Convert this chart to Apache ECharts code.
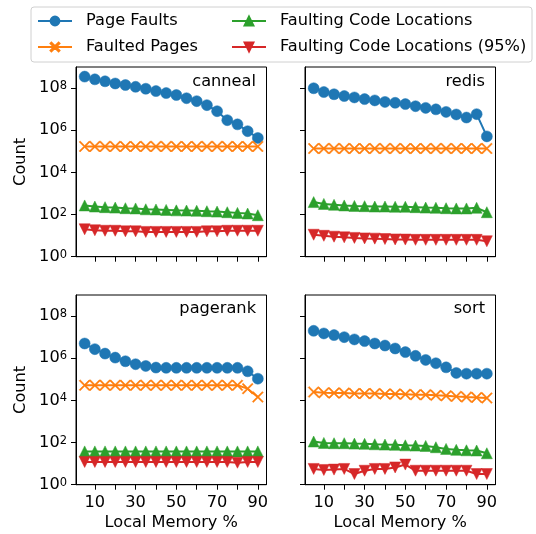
<!DOCTYPE html>
<html><head><meta charset="utf-8">
<script src="https://cdn.jsdelivr.net/npm/echarts@6/dist/echarts.min.js"></script>
<style>html,body{margin:0;padding:0;background:#fff}#c{width:536px;height:534px}</style>
</head><body><div id="c"></div>
<script>
const memory = [5,10,15,20,25,30,35,40,45,50,55,60,65,70,75,80,85,90];
const seriesNames = ['Page Faults','Faulted Pages','Faulting Code Locations','Faulting Code Locations (95%)'];
const panelNames = ['canneal','redis','pagerank','sort'];
const xTicks = [10,20,30,40,50,60,70,80,90];
const xTickLabels = [10,30,50,70,90];
const yTicks = [1,1e2,1e4,1e6,1e8];

const cannealPageFaults = [3.5e8,2.6e8,2.1e8,1.65e8,1.4e8,1.15e8,9.3e7,7.2e7,5.8e7,4.7e7,3.3e7,2.4e7,1.55e7,8e6,3e6,1.9e6,9e5,4.3e5];
const cannealFaultedPages = [1.7e5,1.7e5,1.7e5,1.7e5,1.7e5,1.7e5,1.7e5,1.7e5,1.7e5,1.7e5,1.7e5,1.7e5,1.7e5,1.7e5,1.7e5,1.7e5,1.7e5,1.7e5];
const cannealCodeLocs = [270,240,224,214,200,195,178,174,166,158,155,151,144,138,129,120,112,93];
const cannealCodeLocs95 = [20,18,17,17,16,16,15,15,15,15,15,15,16,16,17,17,17,17];

const redisPageFaults = [9.8e7,6.5e7,5.1e7,4.2e7,3.6e7,3.0e7,2.6e7,2.2e7,2.0e7,1.74e7,1.38e7,1.15e7,9.8e6,7.4e6,5.6e6,4.0e6,5.8e6,5.1e5];
const redisFaultedPages = [1.35e5,1.35e5,1.35e5,1.35e5,1.35e5,1.35e5,1.35e5,1.35e5,1.35e5,1.35e5,1.35e5,1.35e5,1.35e5,1.35e5,1.35e5,1.35e5,1.35e5,1.35e5];
const redisCodeLocs = [390,320,290,270,257,250,240,240,234,234,224,214,209,200,195,195,209,129];
const redisCodeLocs95 = [11,9.8,8.9,8.3,7.8,7.4,7.2,6.9,6.6,6.5,6.3,6.3,6.3,6.3,6.3,6.3,6.3,5.4];

const pagerankPageFaults = [5.0e6,2.7e6,1.66e6,1.07e6,7.2e5,5.2e5,4.3e5,3.6e5,3.5e5,3.5e5,3.5e5,3.5e5,3.5e5,3.5e5,3.5e5,3.5e5,2.4e5,1.07e5];
const pagerankFaultedPages = [5.2e4,5.2e4,5.2e4,5.2e4,5.2e4,5.2e4,5.2e4,5.2e4,5.2e4,5.2e4,5.2e4,5.2e4,5.2e4,5.2e4,5.2e4,5.2e4,3.6e4,1.44e4];
const pagerankCodeLocs = [38,38,38,38,38,38,38,38,38,38,38,38,38,38,38,38,38,38];
const pagerankCodeLocs95 = [12,12,12,12,12,12,12,12,12,12,12,12,12,12,12,11,12,12];

const sortPageFaults = [2.0e7,1.5e7,1.25e7,1.0e7,7.8e6,6.5e6,5.0e6,4.0e6,2.9e6,1.95e6,1.3e6,8.3e5,5.8e5,3.7e5,2.0e5,1.85e5,1.85e5,1.85e5];
const sortFaultedPages = [2.5e4,2.3e4,2.24e4,2.24e4,2.14e4,2.1e4,2.1e4,2.0e4,2.0e4,1.95e4,1.86e4,1.86e4,1.74e4,1.66e4,1.55e4,1.45e4,1.38e4,1.29e4];
const sortCodeLocs = [112,96,93,93,89,87,83,80,78,74,72,69,60,50,45,43,42,31];
const sortCodeLocs95 = [5.6,5.0,5.2,5.6,3.2,4.6,5.6,5.6,6.6,9,4.6,4.6,4.6,4.6,4.6,4.6,3.2,3.2];

const panelData = [
  [cannealPageFaults,cannealFaultedPages,cannealCodeLocs,cannealCodeLocs95],
  [redisPageFaults,redisFaultedPages,redisCodeLocs,redisCodeLocs95],
  [pagerankPageFaults,pagerankFaultedPages,pagerankCodeLocs,pagerankCodeLocs95],
  [sortPageFaults,sortFaultedPages,sortCodeLocs,sortCodeLocs95]
];

const FONT = 'DejaVu Sans';
const FS = 16.2;
const colors = ['#1f77b4','#ff7f0e','#2ca02c','#d62728'];
const xSym = 'path://M0,0.9L0.9,0L5,4.1L9.1,0L10,0.9L5.9,5L10,9.1L9.1,10L5,5.9L0.9,10L0,9.1L4.1,5Z';
const symbols = ['circle', xSym, 'triangle', 'triangle'];
const symSizes = [11, 11, 11, 11];
const symRot = [0, 0, 0, 180];

const gridPos = [
  {left:76, top:67}, {left:305, top:67},
  {left:76, top:295}, {left:305, top:295}
];
const grids = gridPos.map(p => ({left:p.left, top:p.top, width:190.5, height:189.7,
  show:true, borderColor:'#000', borderWidth:1, backgroundColor:'transparent'}));

const xAxes = gridPos.map((p,i) => ({
  type:'value', gridIndex:i, min:0.75, max:94.25,
  axisLine:{show:true, lineStyle:{color:'#000', width:1}},
  axisTick:{show:true, length:5, lineStyle:{color:'#000', width:1}, customValues:xTicks},
  axisLabel:{show:i>=2, customValues:xTickLabels, color:'#000', fontFamily:FONT, fontSize:FS, margin:10},
  splitLine:{show:false},
  name: i>=2 ? 'Local Memory %' : '', nameLocation:'middle', nameGap:30,
  nameTextStyle:{color:'#000', fontFamily:FONT, fontSize:FS}
}));

const yAxes = gridPos.map((p,i) => ({
  type:'log', logBase:10, gridIndex:i, min:1, max:1e9,
  axisLine:{show:true, lineStyle:{color:'#000', width:1}},
  axisTick:{show:true, length:5, lineStyle:{color:'#000', width:1}, customValues:yTicks},
  axisLabel:{show:(i%2===0), customValues:yTicks, margin:9,
    formatter: v => '{b|10}{s|' + Math.round(Math.log10(v)) + '}',
    rich:{
      b:{fontFamily:FONT, fontSize:FS, color:'#000', lineHeight:16, verticalAlign:'bottom'},
      s:{fontFamily:FONT, fontSize:11.5, color:'#000', lineHeight:12, verticalAlign:'top'}
    }},
  splitLine:{show:false}, minorTick:{show:false},
  name:(i%2===0)?'Count':'', nameLocation:'middle', nameGap:47,
  nameTextStyle:{color:'#000', fontFamily:FONT, fontSize:FS}
}));

const series = [];
panelData.forEach((arrs, pi) => {
  arrs.forEach((vals, si) => {
    series.push({
      type:'line', name:seriesNames[si], xAxisIndex:pi, yAxisIndex:pi,
      data: memory.map((m,k) => [m, vals[k]]),
      symbol:symbols[si], symbolSize:symSizes[si], symbolRotate:symRot[si],
      showAllSymbol:true, clip:false,
      color:colors[si],
      lineStyle:{color:colors[si], width:2},
      itemStyle:{color:colors[si], borderColor:colors[si], borderWidth:0.5},
      emphasis:{disabled:true}, animation:false
    });
  });
});

const titleCenters = [
  {right:536-256, cy:82}, {right:536-485, cy:82},
  {right:536-256, cy:309}, {right:536-485, cy:309}
];
const titles = panelNames.map((n,i) => ({
  text:n, right:titleCenters[i].right, top:titleCenters[i].cy-9, padding:0,
  textStyle:{color:'#000', fontFamily:FONT, fontSize:FS, fontWeight:'normal', lineHeight:18}
}));

const legendText = {color:'#000', fontFamily:FONT, fontSize:FS, lineHeight:18, padding:[0,0,0,9]};
const legends = [
  {orient:'vertical', left:37, top:12, padding:0, itemWidth:34, itemHeight:11, itemGap:8,
   data:[seriesNames[0], seriesNames[1]], textStyle:legendText, selectedMode:false},
  {orient:'vertical', left:231, top:12, padding:0, itemWidth:34, itemHeight:11, itemGap:8,
   data:[seriesNames[2], seriesNames[3]], textStyle:legendText, selectedMode:false}
];

const chart = echarts.init(document.getElementById('c'), null, {renderer:'canvas'});
chart.setOption({
  backgroundColor:'#fff', animation:false,
  graphic:[{type:'rect', z:-1, shape:{x:31, y:7, width:501, height:55, r:3},
    style:{fill:'rgba(255,255,255,0.8)', stroke:'#d0d0d0', lineWidth:1}}],
  title:titles, legend:legends, grid:grids, xAxis:xAxes, yAxis:yAxes, series:series
});
</script></body></html>
